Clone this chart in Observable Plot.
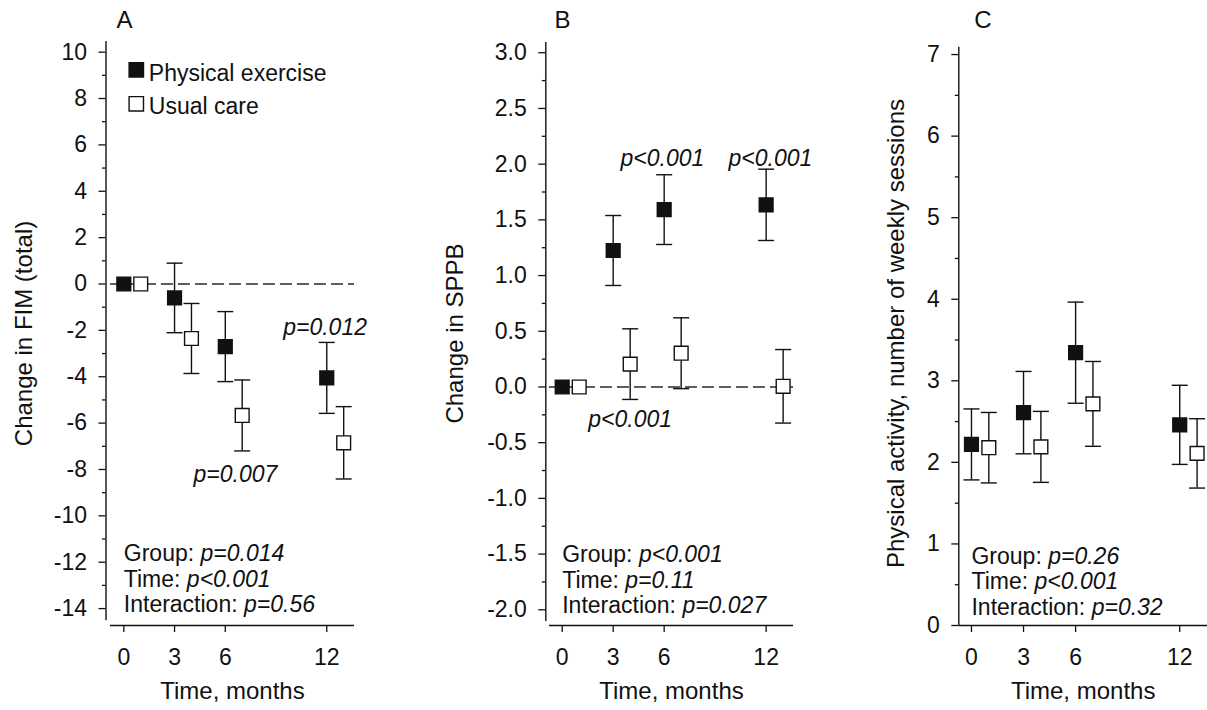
<!DOCTYPE html>
<html>
<head>
<meta charset="utf-8">
<script src="https://cdn.jsdelivr.net/npm/d3@7"></script>
<script src="https://cdn.jsdelivr.net/npm/@observablehq/plot@0.6"></script>
<style>
  html, body { margin: 0; padding: 0; background: #ffffff; }
  #chart { position: relative; width: 1207px; height: 710px; overflow: hidden; }
  #chart svg { position: absolute; top: 0; }
</style>
</head>
<body>
<div id="chart"></div>
<script>
// ---------------- data ----------------
const months = [0, 3, 6, 12];
const groups = ["Physical exercise", "Usual care"];
const xLabel = "Time, months";

// Panel A: Change in FIM (total)
const fimExerciseMean = [0, -0.6, -2.7, -4.05];
const fimExerciseSE   = [0, 1.5, 1.51, 1.53];
const fimUsualMean    = [0, -2.35, -5.67, -6.85];
const fimUsualSE      = [0, 1.51, 1.53, 1.56];
const fimTicks      = [-14, -12, -10, -8, -6, -4, -2, 0, 2, 4, 6, 8, 10];
const fimMinorTicks = [-13, -11, -9, -7, -5, -3, -1, 1, 3, 5, 7, 9];
const fimStats = ["Group: p=0.014", "Time: p<0.001", "Interaction: p=0.56"];
const fimNotes = [{month: 11.9, value: -2.22, text: "p=0.012"}, {month: 6.6, value: -8.55, text: "p=0.007"}];

// Panel B: Change in SPPB
const sppbExerciseMean = [0, 1.225, 1.592, 1.635];
const sppbExerciseSE   = [0, 0.314, 0.313, 0.32];
const sppbUsualMean    = [0, 0.205, 0.303, 0.006];
const sppbUsualSE      = [0, 0.317, 0.318, 0.33];
const sppbTicks      = [-2.0, -1.5, -1.0, -0.5, 0.0, 0.5, 1.0, 1.5, 2.0, 2.5, 3.0];
const sppbMinorTicks = [-1.75, -1.25, -0.75, -0.25, 0.25, 0.75, 1.25, 1.75, 2.25, 2.75];
const sppbStats = ["Group: p<0.001", "Time: p=0.11", "Interaction: p=0.027"];
const sppbNotes = [
  {month: 5.9, value: 1.98, text: "p<0.001"},
  {month: 12.25, value: 1.98, text: "p<0.001"},
  {month: 4.0, value: -0.36, text: "p<0.001"}
];

// Panel C: Physical activity, number of weekly sessions
const paExerciseMean = [2.22, 2.61, 3.345, 2.46];
const paExerciseSE   = [0.435, 0.505, 0.62, 0.485];
const paUsualMean    = [2.18, 2.19, 2.717, 2.11];
const paUsualSE      = [0.432, 0.435, 0.52, 0.425];
const paTicks      = [0, 1, 2, 3, 4, 5, 6, 7];
const paMinorTicks = [0.5, 1.5, 2.5, 3.5, 4.5, 5.5, 6.5];
const paStats = ["Group: p=0.26", "Time: p<0.001", "Interaction: p=0.32"];

// ---------------- drawing ----------------
const ink = "#111111";
const groupShift = {"Physical exercise": 0, "Usual care": 1};
const squareSymbol = {draw(ctx, size) { const r = Math.sqrt(size / Math.PI); ctx.rect(-r, -r, 2 * r, 2 * r); }};
const capSymbol = {draw(ctx, size) { const r = Math.sqrt(size / Math.PI); ctx.moveTo(-r, 0); ctx.lineTo(r, 0); }};

function rowsFor(exMean, exSE, ucMean, ucSE) {
  return [
    ...months.map((m, i) => ({group: groups[0], month: m, mean: exMean[i], se: exSE[i]})),
    ...months.map((m, i) => ({group: groups[1], month: m, mean: ucMean[i], se: ucSE[i]}))
  ];
}

function makePanel(cfg) {
  const rows = cfg.rows;
  const xpos = d => d.month + groupShift[d.group];
  const bars = rows.filter(d => d.se > 0);
  const xMid = (cfg.xLineStart + cfg.xDomain[1]) / 2;
  const marks = [];
  if (cfg.zeroLine) {
    marks.push(Plot.ruleY([0], {x1: cfg.xLineStart, x2: cfg.xDomain[1], stroke: "#2a2a2a", strokeWidth: 1.3, strokeDasharray: "12,5"}));
  }
  marks.push(
    Plot.ruleX(bars, {x: xpos, y1: d => d.mean - d.se, y2: d => d.mean + d.se, stroke: ink, strokeWidth: 1.4}),
    Plot.dot(bars, {x: xpos, y: d => d.mean + d.se, symbol: capSymbol, r: 8, stroke: ink, strokeWidth: 1.4, fill: "none"}),
    Plot.dot(bars, {x: xpos, y: d => d.mean - d.se, symbol: capSymbol, r: 8, stroke: ink, strokeWidth: 1.4, fill: "none"}),
    Plot.dot(rows.filter(d => d.group === groups[1]), {x: xpos, y: "mean", symbol: squareSymbol, r: 6.9, fill: "white", stroke: ink, strokeWidth: 1.4}),
    Plot.dot(rows.filter(d => d.group === groups[0]), {x: xpos, y: "mean", symbol: squareSymbol, r: 6.9, fill: ink, stroke: ink, strokeWidth: 1.4}),
    // axis lines
    Plot.ruleX([cfg.xDomain[0]], {y1: cfg.yAxisLine[0], y2: cfg.yAxisLine[1], stroke: ink, strokeWidth: 1.4}),
    Plot.ruleY([cfg.yDomain[0]], {x1: cfg.xLineStart, x2: cfg.xDomain[1], stroke: ink, strokeWidth: 1.4}),
    // ticks
    Plot.axisY(cfg.ticks, {anchor: "left", tickSize: 7, tickPadding: 12, tickFormat: cfg.fmt, label: null, stroke: ink, fill: ink, strokeWidth: 1.3, fontSize: 23}),
    Plot.axisY(cfg.minorTicks, {anchor: "left", tickSize: 3.5, label: null, stroke: ink, fill: "none", strokeWidth: 1.3}),
    Plot.axisX(months, {anchor: "bottom", tickSize: 7, tickPadding: 16, tickFormat: d => String(d), label: null, stroke: ink, fill: ink, strokeWidth: 1.3, fontSize: 23}),
    // titles
    Plot.text([xLabel], {x: () => xMid, frameAnchor: "bottom", dy: 73.3, textAnchor: "middle", lineAnchor: "bottom", fontSize: 24, fill: ink}),
    Plot.text([cfg.yLabel], {frameAnchor: "left", dx: cfg.yLabelDx, rotate: -90, textAnchor: "middle", lineAnchor: "middle", fontSize: 24, fill: ink}),
    Plot.text([cfg.letter], {frameAnchor: "top-left", dx: cfg.letterDx, dy: -14, textAnchor: "middle", lineAnchor: "bottom", fontSize: 24, fill: ink}),
    ...cfg.stats.map((s, i) => Plot.text([s], {x: () => 0, frameAnchor: "bottom", dy: cfg.statsDy + i * 25.5, textAnchor: "start", lineAnchor: "bottom", fontSize: 23, fill: ink})),
    Plot.text(cfg.notes, {x: "month", y: "value", text: "text", textAnchor: "middle", lineAnchor: "bottom", fontSize: 23, fill: ink})
  );
  if (cfg.legend) {
    groups.forEach((g, i) => {
      marks.push(
        Plot.dot([g], {frameAnchor: "top-left", dx: 30.3, dy: 28.3 + i * 34, symbol: squareSymbol, r: 7.2, fill: i === 0 ? ink : "white", stroke: ink, strokeWidth: 1.4}),
        Plot.text([g], {frameAnchor: "top-left", dx: 42.8, dy: 39.5 + i * 33, text: d => d, textAnchor: "start", lineAnchor: "bottom", fontSize: 23, fill: ink})
      );
    });
  }
  const svg = Plot.plot({
    width: cfg.width, height: 710,
    marginLeft: cfg.marginLeft, marginRight: cfg.marginRight, marginTop: 41, marginBottom: 85,
    x: {domain: cfg.xDomain},
    y: {domain: cfg.yDomain},
    style: {fontFamily: "'Liberation Sans', Arial, sans-serif", fontSize: "23px", background: "transparent", overflow: "visible", color: ink},
    marks
  });
  // italicise the p-value parts
  const ns = "http://www.w3.org/2000/svg";
  svg.querySelectorAll("text").forEach(t => {
    if (t.querySelector("tspan")) return;
    const s = t.textContent;
    const m = s.match(/^(.*?)(p[=<].*)$/);
    if (!m) return;
    t.textContent = "";
    if (m[1]) { const a = document.createElementNS(ns, "tspan"); a.textContent = m[1]; t.appendChild(a); }
    const b = document.createElementNS(ns, "tspan");
    b.setAttribute("font-style", "italic");
    b.textContent = m[2];
    t.appendChild(b);
  });
  svg.style.left = cfg.left + "px";
  return svg;
}

const chart = document.getElementById("chart");

chart.appendChild(makePanel({
  left: 0, width: 400, marginLeft: 105.5, marginRight: 46,
  xDomain: [-1.053, 13.64], xLineStart: -0.79,
  yDomain: [-14.73, 10.46], yAxisLine: [-14.52, 10.46],
  rows: rowsFor(fimExerciseMean, fimExerciseSE, fimUsualMean, fimUsualSE),
  ticks: fimTicks, minorTicks: fimMinorTicks, fmt: d => String(d),
  yLabel: "Change in FIM (total)", yLabelDx: -81.5,
  letter: "A", letterDx: 18.5,
  stats: fimStats, statsDy: -64.5, notes: fimNotes,
  zeroLine: true, legend: true
}));

chart.appendChild(makePanel({
  left: 400, width: 400, marginLeft: 145.3, marginRight: 7,
  xDomain: [-0.965, 13.61], xLineStart: -0.75,
  yDomain: [-2.141, 3.101], yAxisLine: [-2.105, 3.092],
  rows: rowsFor(sppbExerciseMean, sppbExerciseSE, sppbUsualMean, sppbUsualSE),
  ticks: sppbTicks, minorTicks: sppbMinorTicks, fmt: d => d.toFixed(1),
  yLabel: "Change in SPPB", yLabelDx: -90.3,
  letter: "B", letterDx: 16.7,
  stats: sppbStats, statsDy: -63.3, notes: sppbNotes,
  zeroLine: true, legend: false
}));

chart.appendChild(makePanel({
  left: 800, width: 407, marginLeft: 158.3, marginRight: 0,
  xDomain: [-0.73, 13.6], xLineStart: -0.73,
  yDomain: [0, 7.16], yAxisLine: [0, 7.09],
  rows: rowsFor(paExerciseMean, paExerciseSE, paUsualMean, paUsualSE),
  ticks: paTicks, minorTicks: paMinorTicks, fmt: d => String(d),
  yLabel: "Physical activity, number of weekly sessions", yLabelDx: -62.3,
  letter: "C", letterDx: 24.2,
  stats: paStats, statsDy: -61.7, notes: [],
  zeroLine: false, legend: false
}));
</script>
</body>
</html>
